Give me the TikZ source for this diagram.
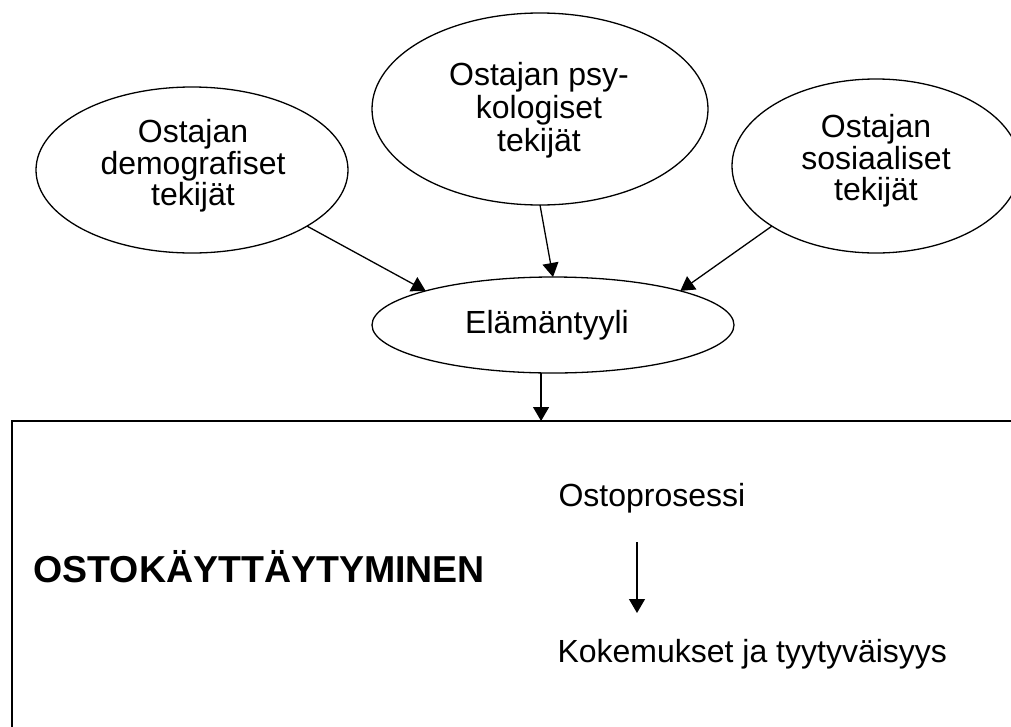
\documentclass[tikz,border=0pt]{standalone}
\usepackage{fontspec}
\setmainfont{Liberation Sans}
\usetikzlibrary{shapes.geometric,arrows.meta}
\begin{document}
\begin{tikzpicture}[x=1pt,y=-1pt,
  ell/.style={draw, ellipse, line width=1.3pt, inner sep=0pt, outer sep=0pt},
  lbl/.style={inner sep=0pt, outer sep=0pt, align=center, font=\fontsize{32}{31.5}\selectfont},
  txt/.style={inner sep=0pt, outer sep=0pt, anchor=base west, font=\fontsize{32}{36}\selectfont},
  arr/.style={line width=1.3pt, -{Triangle[length=14pt,width=16pt]}}]
\useasboundingbox (0,0) rectangle (1011,726);
% ellipses
\node[ell, minimum width=312pt, minimum height=166pt] (L) at (192,170) {};
\node[ell, minimum width=336pt, minimum height=192pt] (M) at (540,109) {};
\node[ell, minimum width=288pt, minimum height=174pt] (R) at (876,166) {};
\node[ell, minimum width=362pt, minimum height=96pt] (E) at (553,325) {};
% labels
\node[lbl] (Lt) at (193,166) {Ostajan\\demografiset\\tekijät};
\node[lbl] (Mt) at (539,110.5) {Ostajan psy-\\[1.5pt]kologiset\\[1.5pt]tekijät};
\node[lbl] (Rt) at (876,161) {Ostajan\\sosiaaliset\\tekijät};
\node[lbl] (Et) at (547,325) {Elämäntyyli};
% box
\node[draw, line width=1.3pt, anchor=north west, minimum width=1030pt, minimum height=340pt, inner sep=0pt, outer sep=0pt] (box) at (12,421) {};
\node[inner sep=0pt, outer sep=0pt, anchor=base west, font=\fontsize{37.5}{40}\selectfont\bfseries] (O) at (33.5,582) {OSTOKÄYTTÄYTYMINEN};
\node[txt] (P) at (558.5,506) {Ostoprosessi};
\node[txt] (K) at (557.5,662) {Kokemukset ja tyytyväisyys};
\coordinate (p1) at (637,542);
\coordinate (p2) at (637,613);
% arrows
\draw[arr] (L.-26.4) -- (E.165.3);
\draw[arr] (M.south) -- (E.north);
\draw[arr] (R.-150.2) -- (E.15.4);
\draw[arr] (E.-104) -- (E.-104 |- box.north);
\draw[arr] (p1) -- (p2);
\end{tikzpicture}
\end{document}
